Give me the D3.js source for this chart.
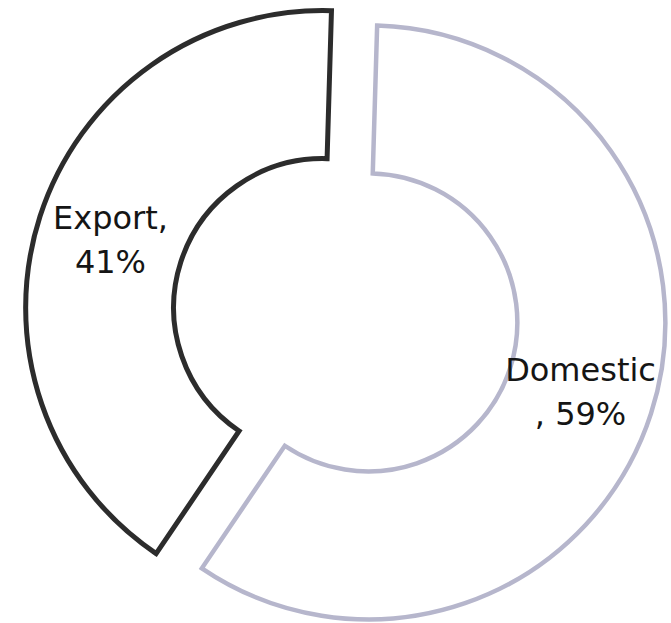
<!DOCTYPE html>
<html>
<head>
<meta charset="utf-8">
<script src="https://cdn.jsdelivr.net/npm/d3@7"></script>
<style>
  html, body { margin: 0; padding: 0; background: #ffffff; }
  svg { display: block; }
</style>
</head>
<body>
<svg id="chart" width="671" height="623"></svg>
<script>
// Sales split by market
const categories = ["Domestic", "Export"];
const values = [59, 41];
// whether the label wraps right after the comma (true) or before it (false)
const breakAfterComma = [false, true];
const strokeColors = ["#b6b6cc", "#2c2c2c"];

const width = 671, height = 623;
const cx = 345.5, cy = 315;
const outerR = 297, innerR = 149;
const explode = 24;
const rotation = 1.7 * Math.PI / 180;

const svg = d3.select("#chart");

const pie = d3.pie()
  .sort(null)
  .value(d => d.value)
  .startAngle(rotation)
  .endAngle(rotation + 2 * Math.PI);

const arc = d3.arc()
  .innerRadius(innerR)
  .outerRadius(outerR);

const labelArc = d3.arc()
  .innerRadius((innerR + outerR) / 2)
  .outerRadius((innerR + outerR) / 2);

const data = categories.map((c, i) => ({ name: c, value: values[i], i }));
const arcs = pie(data);

const slice = svg.selectAll("g.slice")
  .data(arcs)
  .join("g")
  .attr("class", "slice")
  .attr("transform", d => {
    const mid = (d.startAngle + d.endAngle) / 2;
    const dx = explode * Math.sin(mid);
    const dy = -explode * Math.cos(mid);
    return `translate(${cx + dx},${cy + dy})`;
  });

slice.append("path")
  .attr("d", arc)
  .attr("fill", "#ffffff")
  .attr("stroke", d => strokeColors[d.data.i])
  .attr("stroke-width", d => d.data.i === 1 ? 5 : 4.5)
  .attr("stroke-linejoin", "miter");

const label = slice.append("text")
  .attr("transform", d => `translate(${labelArc.centroid(d)})`)
  .attr("text-anchor", "middle")
  .attr("font-family", "'DejaVu Sans', sans-serif")
  .attr("font-size", 32)
  .attr("fill", "#151515");

label.each(function(d) {
  const t = d3.select(this);
  const lines = breakAfterComma[d.data.i]
    ? [d.data.name + ",", d.data.value + "%"]
    : [d.data.name, ", " + d.data.value + "%"];
  t.selectAll("tspan")
    .data(lines)
    .join("tspan")
    .attr("x", 0)
    .attr("y", (l, k) => k === 0 ? -10 : 34)
    .text(l => l);
});
</script>
</body>
</html>
